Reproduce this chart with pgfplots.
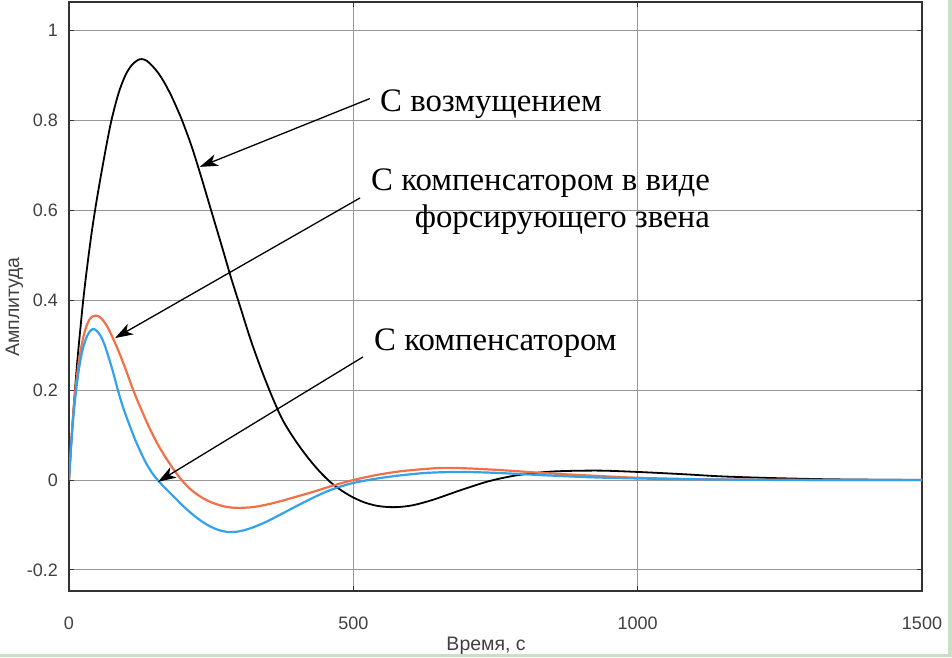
\documentclass[border=0pt]{standalone}
\usepackage{pgfplots}
\pgfplotsset{compat=1.18}
\usepackage{fontspec}
\setmainfont{Liberation Sans}
\newfontfamily\serifann{Liberation Serif}
\usetikzlibrary{arrows.meta}
\definecolor{cOrange}{RGB}{240,112,72}
\definecolor{cBlue}{RGB}{52,162,234}
\definecolor{cGrid}{RGB}{150,150,150}
\definecolor{cAxis}{RGB}{50,50,50}
\definecolor{cTick}{RGB}{64,64,64}
\definecolor{cFrame}{RGB}{200,225,196}
\begin{document}
\begin{tikzpicture}
\begin{axis}[
  scale only axis,
  width=853pt, height=589pt,
  xmin=0, xmax=1500, ymin=-0.247, ymax=1.064,
  xtick={0,500,1000,1500},
  ytick={-0.2,0,0.2,0.4,0.6,0.8,1},
  yticklabels={-0.2,0,0.2,0.4,0.6,0.8,1},
  xticklabels={0,500,1000,1500},
  /pgf/number format/assume math mode=true,
  grid=major,
  major grid style={cGrid, line width=1pt},
  axis line style={cAxis, line width=1.4pt},
  tick align=inside,
  major tick length=5pt,
  tick style={cAxis, line width=1pt},
  every tick label/.append style={font=\fontsize{18}{21}\selectfont, text=cTick},
  yticklabel style={inner sep=0pt, anchor=east, xshift=-11pt},
  xticklabel style={inner sep=0pt, anchor=north, yshift=-26pt},
  xlabel={Время, с},
  ylabel={Амплитуда},
  label style={font=\fontsize{19.5}{23}\selectfont, text=cTick},
  xlabel style={at={(axis description cs:0.489,0)}, anchor=base, inner sep=0pt, yshift=-59pt},
  ylabel style={at={(axis description cs:-0.0586,0.482)}, anchor=base, inner sep=0pt},
  clip=true,
]
\addplot[black, line width=1.8pt, smooth] coordinates {
(0,0)(3,0.063)(6,0.122)(10.5,0.2)(15,0.27)(20,0.337)(25,0.4)(30,0.455)(35,0.505)(40,0.552)(46,0.602)(53,0.655)(60,0.705)(67,0.753)(74,0.797)(82,0.838)(90,0.872)(100,0.903)(110,0.923)(120,0.934)(128,0.937)(137,0.933)(147,0.921)(157,0.906)(168,0.884)(180,0.855)(190,0.827)(199,0.80)(215,0.745)(230,0.685)(250,0.60)(270,0.515)(285,0.45)(300,0.39)(320,0.31)(340,0.24)(358,0.183)(376,0.133)(398,0.088)(420,0.05)(440,0.02)(460,-0.005)(480,-0.024)(500,-0.039)(520,-0.05)(540,-0.057)(560,-0.06)(580,-0.06)(605,-0.056)(640,-0.044)(690,-0.022)(740,-0.002)(790,0.011)(850,0.019)(930,0.021)(1000,0.018)(1080,0.013)(1150,0.008)(1250,0.004)(1350,0.0015)(1500,0)
};
\addplot[cOrange, line width=2.2pt, smooth] coordinates {
(0,0)(4,0.085)(8,0.155)(12,0.21)(16,0.252)(20,0.285)(25,0.317)(30,0.34)(35,0.355)(40,0.363)(47,0.366)(54,0.363)(62,0.352)(70,0.335)(80,0.308)(90,0.278)(100,0.245)(113,0.2)(125,0.163)(140,0.12)(155,0.082)(170,0.05)(185,0.022)(198,0)(215,-0.022)(235,-0.04)(255,-0.052)(278,-0.06)(300,-0.062)(325,-0.06)(350,-0.054)(375,-0.046)(400,-0.037)(430,-0.026)(465,-0.012)(500,0)(540,0.011)(580,0.019)(620,0.024)(657,0.027)(700,0.026)(760,0.022)(830,0.016)(900,0.011)(1000,0.005)(1100,0.002)(1200,0.001)(1350,0)(1500,0)
};
\addplot[cBlue, line width=2.2pt, smooth] coordinates {
(0,0)(3,0.062)(6,0.115)(9,0.158)(13,0.205)(17,0.243)(21,0.273)(26,0.3)(31,0.318)(36,0.33)(42,0.336)(48,0.333)(55,0.322)(62,0.303)(70,0.272)(78,0.238)(86,0.2)(95,0.162)(105,0.127)(115,0.094)(125,0.065)(135,0.039)(146,0.016)(158,-0.003)(170,-0.019)(185,-0.038)(200,-0.057)(215,-0.074)(230,-0.089)(245,-0.101)(260,-0.11)(272,-0.114)(283,-0.116)(300,-0.114)(320,-0.107)(345,-0.094)(370,-0.078)(400,-0.058)(430,-0.039)(460,-0.022)(495,-0.008)(535,0.002)(580,0.01)(630,0.016)(687,0.018)(750,0.016)(830,0.011)(920,0.006)(1020,0.003)(1150,0.001)(1300,0)(1500,0)
};
\draw[black, line width=1.3pt, -{Stealth[length=18pt,width=12pt,inset=5pt]}] (axis cs:529,0.849) -- (axis cs:230,0.697);
\draw[black, line width=1.3pt, -{Stealth[length=18pt,width=12pt,inset=5pt]}] (axis cs:512,0.628) -- (axis cs:81,0.316);
\draw[black, line width=1.3pt, -{Stealth[length=18pt,width=12pt,inset=5pt]}] (axis cs:517,0.274) -- (axis cs:156.5,-0.004);
\end{axis}
\node[anchor=base west, inner sep=0pt, font=\serifann\fontsize{32.8}{38}\selectfont] at (311pt,479pt) {С возмущением};
\node[anchor=base east, inner sep=0pt, font=\serifann\fontsize{32.8}{38}\selectfont] at (641pt,401pt) {С компенсатором в виде};
\node[anchor=base east, inner sep=0pt, font=\serifann\fontsize{32.8}{38}\selectfont] at (641pt,364pt) {форсирующего звена};
\node[anchor=base west, inner sep=0pt, font=\serifann\fontsize{32.8}{38}\selectfont] at (305pt,241pt) {С компенсатором};
\fill[cFrame] (879pt,-66pt) rectangle (883pt,591pt);
\fill[cFrame] (-69pt,-66pt) rectangle (883pt,-63pt);
\pgfresetboundingbox
\path (-69pt,-66pt) rectangle (883pt,591pt);
\end{tikzpicture}
\end{document}
